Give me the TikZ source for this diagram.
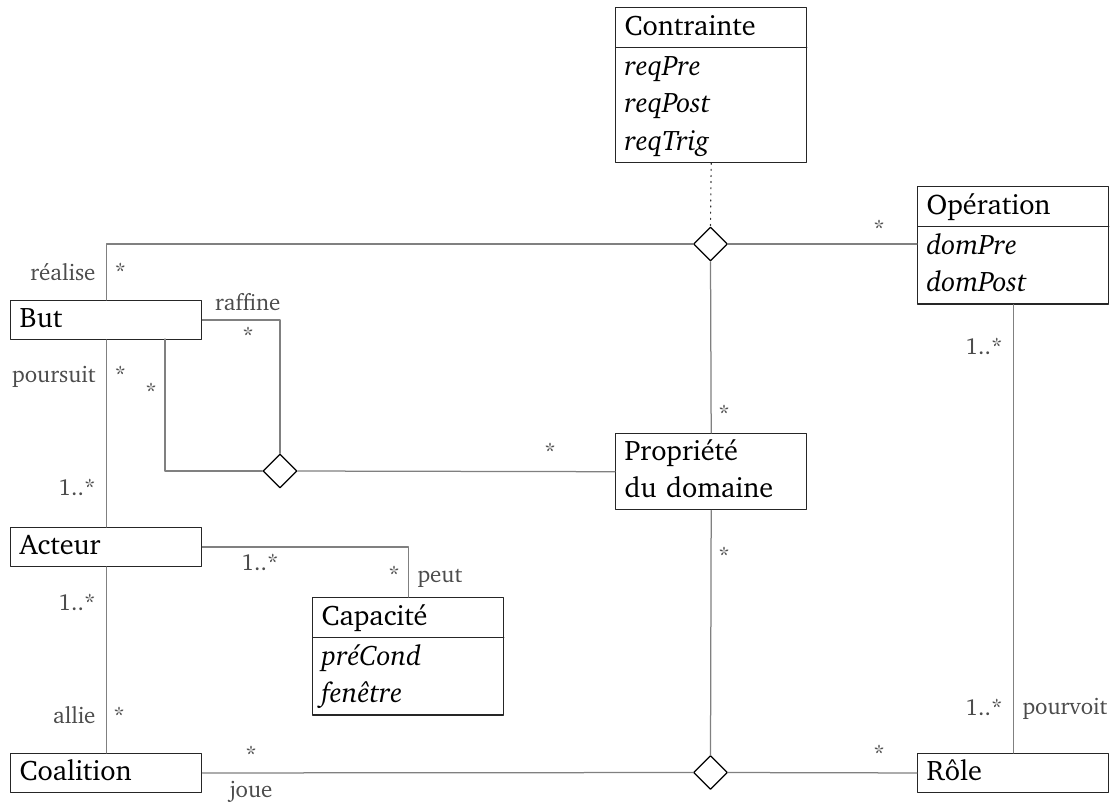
\documentclass[tikz,border=0pt]{standalone}
\usepackage[T1]{fontenc}
\usepackage{charter}
\usetikzlibrary{shapes.geometric,shapes.multipart}
\newcommand\attrib[1]{\strut\textit{#1}}
\tikzset{
  boite/.style={draw=black!85,line width=0.55pt,fill=white,anchor=north west,
    text width=69.2pt,align=left,inner xsep=3.6pt,inner ysep=0.2pt,
    font=\fontsize{11.3}{15}\selectfont},
  classe/.style={boite,rectangle split,rectangle split parts=2},
  losange/.style={draw=black,line width=0.5pt,fill=white,diamond,
    minimum size=13.6pt,inner sep=0pt},
  lien/.style={draw=black!50,line width=0.5pt},
  etiq/.style={text=black!70,inner sep=0pt,font=\fontsize{9.2}{11}\selectfont}
}
\begin{document}
\begin{tikzpicture}[line cap=round,line join=round,x=0.4pt,y=-0.4pt]
		\useasboundingbox (0,0) rectangle (1111,803);
		%Classes
		\node[classe] (contrainte) at (615,7) {\strut Contrainte
			\nodepart{two}\attrib{reqPre}\\\attrib{reqPost}\\\attrib{reqTrig}};
		\node[classe] (operation) at (917,186) {\strut Opération
			\nodepart{two}\attrib{domPre}\\\attrib{domPost}};
		\node[boite] (but) at (10,300) {\strut But};
		\node[boite] (prop) at (615,433) {\strut Propriété\\\strut du domaine};
		\node[boite] (acteur) at (10,527) {\strut Acteur};
		\node[classe] (capacite) at (312,597) {\strut Capacité
			\nodepart{two}\attrib{préCond}\\\attrib{fenêtre}};
		\node[boite] (coalition) at (10,753) {\strut Coalition};
		\node[boite] (role) at (917,753) {\strut Rôle};
		\node[losange] (d1) at (710.5,244) {};
		\node[losange] (d2) at (280,471) {};
		\node[losange] (d3) at (710.5,772.5) {};
		\coordinate (pied) at (165,339);
		%Associations
		\draw[black!80,line width=0.45pt,dotted] (contrainte.south)--(d1.north);
		\draw[lien] (d1.west) -| (but.north);
		\draw[lien] (d1.east)--(d1 -| operation.west);
		\draw[lien] (d1.south)--(prop.north);
		\draw[lien] (but.east) -| (d2.north);
		\draw[lien] (pied) |- (d2.west);
		\draw[lien] (d2.east)--(prop.west);
		\draw[lien] (prop.south)--(d3.north);
		\draw[lien] (d3.east)--(role.west);
		\draw[lien] (d3.west)--(coalition.east);
		\draw[lien] (but.south)--(acteur.north);
		\draw[lien] (acteur.south)--(coalition.north);
		\draw[lien] (acteur.east) -| (capacite.north);
		\draw[lien] (operation.south)--(role.north);
		%Rôles et multiplicités
		\node[etiq,anchor=base east] (e1) at (96,280) {réalise};
		\node[etiq,anchor=base west] (m1) at (114,279) {*};
		\node[etiq,anchor=base east] (e2) at (281,310) {raffine};
		\node[etiq,anchor=base] (m2) at (248,343) {*};
		\node[etiq,anchor=base east] (e3) at (96,382) {poursuit};
		\node[etiq,anchor=base west] (m3) at (114,382) {*};
		\node[etiq,anchor=base] (m4) at (151,399) {*};
		\node[etiq,anchor=base east] (m5) at (96,495) {1..*};
		\node[etiq,anchor=base] (m6) at (550,459) {*};
		\node[etiq,anchor=base] (m7) at (724,421) {*};
		\node[etiq,anchor=base] (m8) at (879,236) {*};
		\node[etiq,anchor=base east] (m9) at (1003,354) {1..*};
		\node[etiq,anchor=base] (m10) at (724,563) {*};
		\node[etiq,anchor=base east] (m11) at (279,570) {1..*};
		\node[etiq,anchor=base] (m12) at (394,582) {*};
		\node[etiq,anchor=base west] (e4) at (417,582) {peut};
		\node[etiq,anchor=base east] (m13) at (96,610) {1..*};
		\node[etiq,anchor=base east] (e5) at (96,723) {allie};
		\node[etiq,anchor=base] (m14) at (119,723) {*};
		\node[etiq,anchor=base east] (m15) at (1003,715) {1..*};
		\node[etiq,anchor=base west] (e6) at (1022,714) {pourvoit};
		\node[etiq,anchor=base] (m16) at (879,761) {*};
		\node[etiq,anchor=base] (m17) at (251,762) {*};
		\node[etiq,anchor=base] (e7) at (251,797) {joue};
	\end{tikzpicture}
\end{document}
